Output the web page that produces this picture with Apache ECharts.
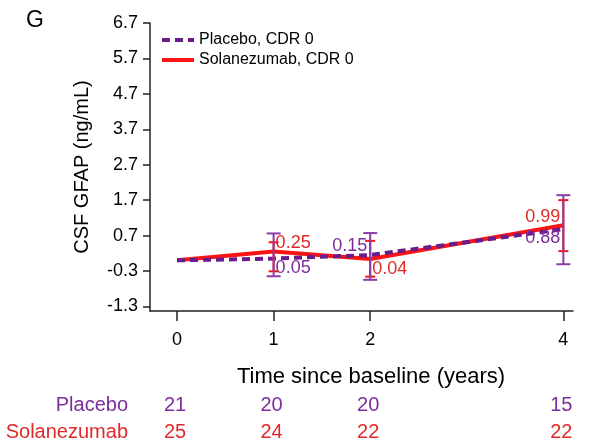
<!DOCTYPE html>
<html lang="en">
<head>
    <meta charset="UTF-8">
    <title>CSF GFAP</title>
    <style>
        html, body { margin: 0; padding: 0; background: #fff; }
        #main { width: 589px; height: 446px; }
    </style>
</head>
<body>
<div id="main"></div>
<script src="https://cdn.jsdelivr.net/npm/echarts@6/dist/echarts.min.js"></script>
<script>
    // data
    var years = [0, 1, 2, 4];
    var yTicks = [-1.3, -0.3, 0.7, 1.7, 2.7, 3.7, 4.7, 5.7, 6.7];
    var placebo = [0, 0.05, 0.15, 0.88];
    var placeboLow = [null, -0.45, -0.55, -0.11];
    var placeboHigh = [null, 0.76, 0.77, 1.84];
    var solan = [0, 0.25, 0.04, 0.99];
    var solanLow = [null, -0.31, -0.46, 0.26];
    var solanHigh = [null, 0.51, 0.55, 1.70];
    var placeboN = [21, 20, 20, 15];
    var solanN = [25, 24, 22, 22];

    var PURPLE = '#6a1b8c', PURPLE_TXT = '#7b2e9b', PURPLE_BAR = '#8a3da8';
    var RED = '#fa1414', RED_TXT = '#e02a2a';
    var FONT = '"Liberation Sans", Arial, sans-serif';

    // label offsets for each point [dx, dy, align]
    var placeboLbl = [null, [2, 9, 'left'], [-3, -9, 'right'], [-3, 9, 'right']];
    var solanLbl = [null, [2, -8, 'left'], [2, 10, 'left'], [-3, -8, 'right']];

    function lineData(vals, lbls, color) {
        return years.map(function (x, i) {
            var item = { value: [x, vals[i]] };
            if (lbls[i]) {
                item.label = {
                    show: true,
                    position: 'inside',
                    offset: [lbls[i][0], lbls[i][1]],
                    align: lbls[i][2],
                    verticalAlign: 'middle',
                    color: color,
                    fontSize: 18,
                    fontFamily: FONT,
                    formatter: function (p) { return p.value[1].toFixed(2); }
                };
            }
            return item;
        });
    }

    function barData(low, high) {
        var out = [];
        years.forEach(function (x, i) {
            if (low[i] !== null) out.push([x, low[i], high[i]]);
        });
        return out;
    }

    function errorBar(color, capHalf) {
        return function (params, api) {
            var lo = api.coord([api.value(0), api.value(1)]);
            var hi = api.coord([api.value(0), api.value(2)]);
            var st = { stroke: color, lineWidth: 2 };
            return {
                type: 'group',
                children: [
                    { type: 'line', shape: { x1: lo[0], y1: lo[1], x2: hi[0], y2: hi[1] }, style: st },
                    { type: 'line', shape: { x1: lo[0] - capHalf, y1: lo[1], x2: lo[0] + capHalf, y2: lo[1] }, style: st },
                    { type: 'line', shape: { x1: hi[0] - capHalf, y1: hi[1], x2: hi[0] + capHalf, y2: hi[1] }, style: st }
                ]
            };
        };
    }

    var myChart = echarts.init(document.getElementById('main'));

    var option = {
        backgroundColor: '#fff',
        animation: false,
        textStyle: { fontFamily: FONT },
        grid: { left: 150, right: 16, top: 23, bottom: 135 },
        legend: {
            orient: 'vertical',
            left: 155,
            top: 27,
            itemWidth: 32,
            itemHeight: 14,
            itemGap: 4,
            lineStyle: { width: 4 },
            textStyle: { fontSize: 16, color: '#000', fontFamily: FONT },
            data: ['Placebo, CDR 0', 'Solanezumab, CDR 0']
        },
        xAxis: {
            type: 'value',
            min: -0.28,
            max: 4.1,
            splitLine: { show: false },
            axisLine: { onZero: false, lineStyle: { color: '#222', width: 1.5 } },
            axisTick: { show: true, length: 10, customValues: years, lineStyle: { color: '#222', width: 1.5 } },
            axisLabel: { customValues: years, color: '#000', fontSize: 18, margin: 20, fontFamily: FONT },
            name: 'Time since baseline (years)',
            nameLocation: 'middle',
            nameGap: 55,
            nameTextStyle: { fontSize: 22, color: '#000', padding: [0, 0, 0, 19], fontFamily: FONT }
        },
        yAxis: {
            type: 'value',
            min: -1.43,
            max: 6.7,
            splitLine: { show: false },
            axisLine: { show: true, onZero: false, lineStyle: { color: '#222', width: 1.5 } },
            axisTick: { show: true, length: 7, customValues: yTicks, lineStyle: { color: '#222', width: 1.5 } },
            axisLabel: {
                customValues: yTicks, color: '#000', fontSize: 18, margin: 12, fontFamily: FONT,
                formatter: function (v) { return v.toFixed(1); }
            },
            name: 'CSF GFAP (ng/mL)',
            nameLocation: 'middle',
            nameGap: 58,
            nameTextStyle: { fontSize: 20, color: '#000', fontFamily: FONT }
        },
        series: [
            {
                name: 'Solanezumab, CDR 0',
                type: 'line',
                data: lineData(solan, solanLbl, RED_TXT),
                symbol: 'circle',
                symbolSize: 1,
                itemStyle: { color: 'rgba(0,0,0,0)' },
                lineStyle: { color: RED, width: 4 },
                z: 3
            },
            {
                name: 'Placebo, CDR 0',
                type: 'line',
                data: lineData(placebo, placeboLbl, PURPLE_TXT),
                symbol: 'circle',
                symbolSize: 1,
                itemStyle: { color: 'rgba(0,0,0,0)' },
                lineStyle: { color: PURPLE, width: 4, type: [8, 5] },
                z: 4
            },
            {
                type: 'custom',
                data: barData(solanLow, solanHigh),
                renderItem: errorBar(RED, 5),
                encode: { x: 0, y: [1, 2] },
                z: 5,
                silent: true
            },
            {
                type: 'custom',
                data: barData(placeboLow, placeboHigh),
                renderItem: errorBar(PURPLE_BAR, 7),
                encode: { x: 0, y: [1, 2] },
                z: 6,
                silent: true
            }
        ]
    };

    myChart.setOption(option);

    // numbers at risk under the axis
    var graphics = [
        { type: 'text', left: 26, top: 9, style: { text: 'G', fontSize: 23, fill: '#000', fontFamily: FONT } },
        { type: 'text', x: 128, y: 405, style: { text: 'Placebo', fontSize: 20, fill: PURPLE_TXT, align: 'right', verticalAlign: 'middle', fontFamily: FONT } },
        { type: 'text', x: 128, y: 432, style: { text: 'Solanezumab', fontSize: 20, fill: RED_TXT, align: 'right', verticalAlign: 'middle', fontFamily: FONT } }
    ];
    years.forEach(function (yr, i) {
        var px = myChart.convertToPixel({ xAxisIndex: 0 }, yr);
        graphics.push({ type: 'text', x: px - 2, y: 405, style: { text: String(placeboN[i]), fontSize: 20, fill: PURPLE_TXT, align: 'center', verticalAlign: 'middle', fontFamily: FONT } });
        graphics.push({ type: 'text', x: px - 2, y: 432, style: { text: String(solanN[i]), fontSize: 20, fill: RED_TXT, align: 'center', verticalAlign: 'middle', fontFamily: FONT } });
    });
    myChart.setOption({ graphic: graphics });
</script>
</body>
</html>
